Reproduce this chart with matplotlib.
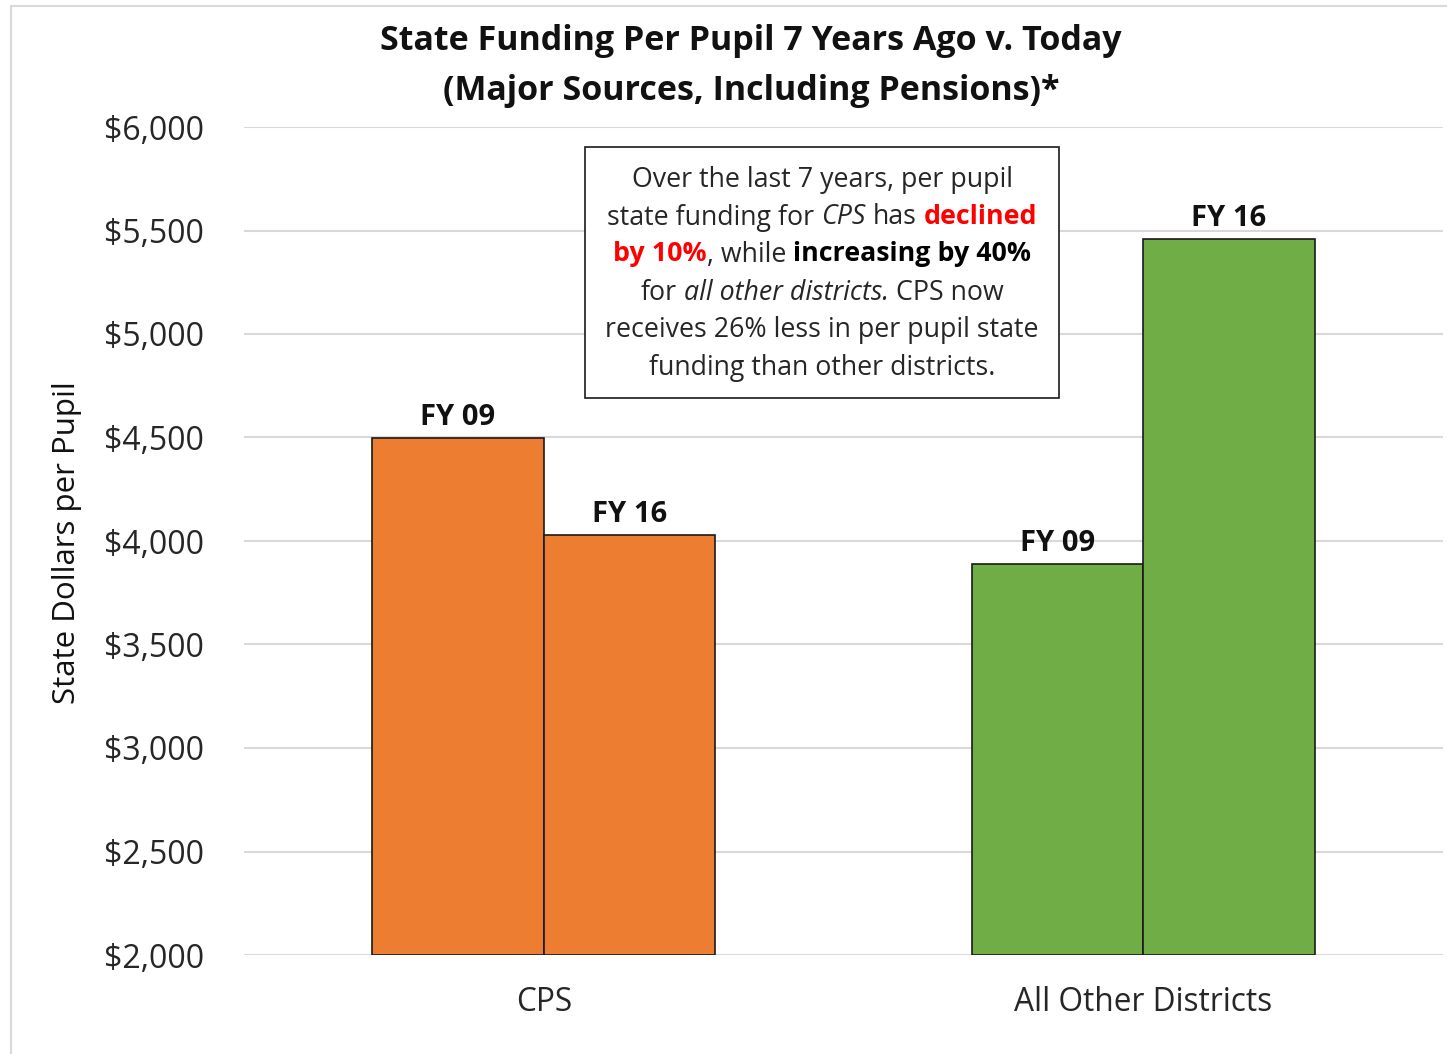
import matplotlib
matplotlib.use("Agg")
import matplotlib.pyplot as plt
from matplotlib.patches import Rectangle
import numpy as np

plt.rcParams['font.family'] = ['Open Sans', 'DejaVu Sans']

groups = ["CPS", "All Other Districts"]
years = ["FY 09", "FY 16"]
fy09 = [4500, 3890]
fy16 = [4030, 5460]
group_colors = ["#ED7D31", "#70AD47"]
yticks = [2000, 2500, 3000, 3500, 4000, 4500, 5000, 5500, 6000]

title1 = "State Funding Per Pupil 7 Years Ago v. Today"
title2 = "(Major Sources, Including Pensions)*"
ylabel = "State Dollars per Pupil"

# callout text: (text, weight, style, color)
note_lines = [
    [("Over the last 7 years, per pupil", "normal", "normal", "#262626")],
    [("state funding for ", "normal", "normal", "#262626"), ("CPS", "normal", "italic", "#262626"),
     (" has ", "normal", "normal", "#262626"), ("declined", "bold", "normal", "#FF0000")],
    [("by 10%", "bold", "normal", "#FF0000"), (", while ", "normal", "normal", "#262626"),
     ("increasing by 40%", "bold", "normal", "#000000")],
    [("for ", "normal", "normal", "#262626"), ("all other districts.", "normal", "italic", "#262626"),
     (" CPS now", "normal", "normal", "#262626")],
    [("receives 26% less in per pupil state", "normal", "normal", "#262626")],
    [("funding than other districts.", "normal", "normal", "#262626")],
]

W, H = 1447, 1054
fig = plt.figure(figsize=(W / 100, H / 100), dpi=100)
ax = fig.add_axes([244 / W, 1 - 955 / H, 1199 / W, 828 / H])

# light outer frame of the chart area
fig.patches.append(Rectangle((11 / W, -0.1), 1.2, 1 - 6 / H + 0.1, transform=fig.transFigure,
                             fill=False, edgecolor="#D9D9D9", linewidth=1.5, zorder=0))

x = np.arange(len(groups))
bw = 0.286
vals = np.array([fy09, fy16])
for i, yr in enumerate(years):
    xs = x + (i - 0.5) * bw
    bars = ax.bar(xs, vals[i] - 2000, bottom=2000, width=bw, color=group_colors,
                  edgecolor="#1a1a1a", linewidth=1.2, zorder=3)
    for b, v in zip(bars, vals[i]):
        ax.annotate(yr, (b.get_x() + b.get_width() / 2, v), xytext=(0, 4),
                    textcoords="offset points", ha="center", va="bottom",
                    fontsize=21, fontweight="bold", color="#111111")

ax.set_xlim(-0.5, 1.5)
ax.set_ylim(2000, 6000)
ax.set_yticks(yticks)
ax.set_yticklabels(["${:,}".format(v) for v in yticks])
ax.set_xticks(x)
ax.set_xticklabels(groups)
ax.tick_params(axis="y", length=0, pad=29, labelsize=23, labelcolor="#262626")
ax.tick_params(axis="x", length=0, pad=22, labelsize=22.8, labelcolor="#262626")
ax.grid(axis="y", color="#D9D9D9", linewidth=1.5, zorder=0)
ax.set_axisbelow(True)
for s in ax.spines.values():
    s.set_visible(False)

fig.text(67 / W, 1 - 543 / H, ylabel, rotation=90, ha="center", va="center",
         fontsize=22.5, color="#111111")
fig.text(751 / W, 1 - 41 / H, title1, ha="center", va="center", fontsize=24.5,
         fontweight="bold", color="#111111")
fig.text(751 / W, 1 - 91 / H, title2, ha="center", va="center", fontsize=24.5,
         fontweight="bold", color="#111111")

# callout box
bx0, bx1, by0, by1 = 585, 1059, 147, 398
fig.patches.append(Rectangle((bx0 / W, 1 - by1 / H), (bx1 - bx0) / W, (by1 - by0) / H,
                             transform=fig.transFigure, facecolor="white",
                             edgecolor="#1a1a1a", linewidth=1.2, zorder=5))

renderer = fig.canvas.get_renderer()
note_size = 19.3


def measure(txt, weight, style):
    t = fig.text(0, 0, txt, fontsize=note_size, fontweight=weight, fontstyle=style)
    w = t.get_window_extent(renderer).width
    t.remove()
    return w


space_w = measure("x x", "normal", "normal") - measure("xx", "normal", "normal")
cx = (bx0 + bx1) / 2
line_y = [176, 214, 251, 289, 326, 364]
for line, ly in zip(note_lines, line_y):
    pieces = []
    total = 0
    for txt, wt, st, col in line:
        lead = len(txt) - len(txt.lstrip(" "))
        trail = len(txt) - len(txt.rstrip(" "))
        core = txt.strip(" ")
        w = measure(core, wt, st)
        pieces.append((total + lead * space_w, core, wt, st, col))
        total += lead * space_w + w + trail * space_w
    x0 = cx - total / 2
    for off, core, wt, st, col in pieces:
        fig.text((x0 + off) / W, 1 - ly / H, core, ha="left", va="center_baseline",
                 fontsize=note_size, fontweight=wt, fontstyle=st, color=col, zorder=6)

fig.savefig("out.png", dpi=100)
